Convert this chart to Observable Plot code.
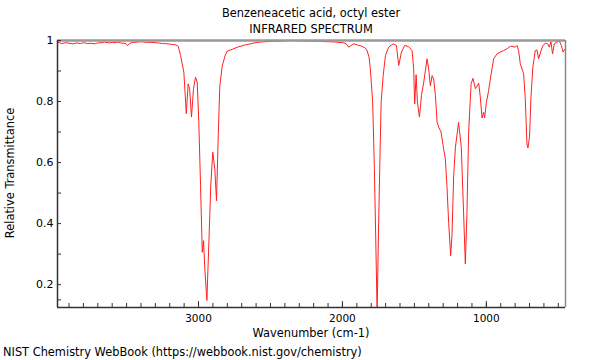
<!DOCTYPE html>
<html>
<head>
<meta charset="utf-8">
<script src="https://cdn.jsdelivr.net/npm/d3@7"></script>
<script src="https://cdn.jsdelivr.net/npm/@observablehq/plot@0.6"></script>
<style>
  html, body { margin: 0; padding: 0; background: #fff; }
  #wrap { position: relative; width: 600px; height: 360px; font-family: "DejaVu Sans", sans-serif; color: #000; }
  .t { position: absolute; white-space: nowrap; font-size: 11.4px; line-height: 13px; }
  #title1 { left: 0; width: 622px; text-align: center; top: 7px; }
  #title2 { left: 0; width: 622px; text-align: center; top: 23px; }
  #xlabel { left: 0; width: 622px; text-align: center; top: 327px; }
  #ylabel { left: 10px; top: 173px; transform: translate(-50%, -50%) rotate(-90deg); }
  #caption { left: 3px; top: 346px; }
</style>
</head>
<body>
<div id="wrap">
  <div id="chart"></div>
  <div class="t" id="title1">Benzeneacetic acid, octyl ester</div>
  <div class="t" id="title2">INFRARED SPECTRUM</div>
  <div class="t" id="xlabel">Wavenumber (cm-1)</div>
  <div class="t" id="ylabel">Relative Transmittance</div>
  <div class="t" id="caption">NIST Chemistry WebBook (https://webbook.nist.gov/chemistry)</div>
</div>
<script>
const wavenumber = [
  3980, 3950, 3920, 3900, 3870, 3850, 3820, 3800, 3770, 3750, 3720, 3700, 3670, 3650, 3620, 3600,
  3580, 3560, 3540, 3520, 3505, 3493, 3480, 3470, 3450, 3420, 3400, 3380, 3350, 3330, 3300, 3280,
  3250, 3230, 3200, 3180, 3160, 3141, 3125, 3102, 3085, 3072, 3062, 3049, 3035, 3021, 3009, 2998,
  2986, 2974, 2965, 2956, 2942, 2928, 2915, 2901, 2887, 2875, 2863, 2852, 2835, 2812, 2801, 2760,
  2731, 2680, 2640, 2592, 2540, 2480, 2420, 2361, 2300, 2250, 2200, 2150, 2100, 2050, 2000, 1975,
  1956, 1940, 1924, 1905, 1889, 1870, 1852, 1840, 1829, 1815, 1806, 1790, 1778, 1769, 1759, 1750,
  1741, 1731, 1717, 1701, 1679, 1648, 1625, 1609, 1590, 1567, 1540, 1516, 1505, 1498, 1488, 1479,
  1465, 1451, 1435, 1412, 1401, 1389, 1377, 1366, 1354, 1342, 1331, 1315, 1297, 1285, 1274, 1262,
  1248, 1239, 1227, 1215, 1193, 1174, 1158, 1146, 1135, 1123, 1106, 1093, 1076, 1053, 1042, 1030,
  1019, 1012, 1000, 984, 967, 949, 926, 903, 880, 856, 833, 815, 799, 787, 776, 764,
  741, 730, 718, 711, 700, 690, 677, 660, 648, 637, 620, 606, 590, 574, 563, 551,
  540, 528, 509, 493, 479, 467, 451
];
const transmittance = [
  0.995, 0.990, 0.993, 0.991, 0.989, 0.992, 0.990, 0.993, 0.990, 0.991, 0.989, 0.992, 0.993, 0.995, 0.992, 0.994,
  0.993, 0.995, 0.992, 0.991, 0.990, 0.983, 0.990, 0.992, 0.994, 0.995, 0.996, 0.995, 0.994, 0.994, 0.993, 0.992,
  0.990, 0.990, 0.988, 0.987, 0.986, 0.981, 0.951, 0.896, 0.760, 0.858, 0.842, 0.749, 0.842, 0.880, 0.863, 0.732,
  0.525, 0.306, 0.344, 0.250, 0.148, 0.340, 0.525, 0.634, 0.580, 0.475, 0.689, 0.852, 0.918, 0.955, 0.965, 0.972,
  0.978, 0.985, 0.989, 0.994, 0.996, 0.997, 0.998, 1.000, 0.999, 0.998, 0.998, 0.997, 0.996, 0.995, 0.993, 0.990,
  0.978, 0.984, 0.989, 0.987, 0.984, 0.982, 0.978, 0.975, 0.967, 0.945, 0.907, 0.798, 0.580, 0.360, 0.110, 0.360,
  0.580, 0.798, 0.885, 0.951, 0.978, 0.989, 0.984, 0.918, 0.962, 0.984, 0.980, 0.967, 0.907, 0.792, 0.888, 0.798,
  0.749, 0.820, 0.863, 0.940, 0.907, 0.852, 0.885, 0.874, 0.820, 0.732, 0.716, 0.700, 0.645, 0.612, 0.525, 0.404,
  0.295, 0.360, 0.557, 0.650, 0.732, 0.650, 0.432, 0.268, 0.432, 0.700, 0.858, 0.876, 0.842, 0.860, 0.814, 0.746,
  0.765, 0.746, 0.797, 0.836, 0.890, 0.940, 0.956, 0.962, 0.967, 0.973, 0.981, 0.980, 0.978, 0.984, 0.967, 0.924,
  0.891, 0.814, 0.661, 0.648, 0.683, 0.814, 0.912, 0.967, 0.969, 0.940, 0.967, 0.984, 0.991, 0.989, 0.978, 0.995,
  0.956, 0.989, 0.995, 0.998, 0.984, 0.962, 0.973
];
const xMajorTicks = [3000, 2000, 1000];
const xMinorTicks = d3.range(500, 4000, 100);
const yMajorTicks = [0.2, 0.4, 0.6, 0.8, 1];
const yMinorTicks = [0.15, 0.2, 0.3, 0.4, 0.5, 0.6, 0.7, 0.8, 0.9, 1];
const xDomain = [3980, 450];
const yDomain = [0.125, 1];

const spectrum = wavenumber.map((w, i) => ({w, t: transmittance[i]}));

const chart = Plot.plot({
  width: 600,
  height: 360,
  marginTop: 40,
  marginBottom: 53,
  marginLeft: 57,
  marginRight: 35,
  style: {fontFamily: "DejaVu Sans, sans-serif", fontSize: "10.5px", color: "#000", background: "#fff", overflow: "visible"},
  x: {domain: xDomain},
  y: {domain: yDomain},
  marks: [
    Plot.line(spectrum, {x: "w", y: "t", stroke: "#ff2020", strokeWidth: 1, clip: true}),
    Plot.ruleY([yDomain[1]], {stroke: "#999", strokeWidth: 2.5}),
    Plot.ruleX([xDomain[1]], {stroke: "#888", strokeWidth: 1.5}),
    Plot.ruleX([xDomain[0]], {stroke: "#333", strokeWidth: 1.5}),
    Plot.ruleY([yDomain[0]], {stroke: "#333", strokeWidth: 1.5}),
    Plot.axisX(xMinorTicks, {tickSize: -4, fill: "none", stroke: "#333", label: null}),
    Plot.axisX(xMajorTicks, {tickSize: -6, fill: "none", stroke: "#333", label: null}),
    Plot.axisX(xMajorTicks, {tickSize: 0, tickPadding: 7, tickFormat: d => String(d), label: null, fontSize: 10.5}),
    Plot.axisY(yMinorTicks, {tickSize: -4, fill: "none", stroke: "#333", label: null}),
    Plot.axisY(yMajorTicks, {tickSize: 0, tickPadding: 4, tickFormat: d => d === 1 ? "1" : String(d), label: null, fontSize: 11})
  ]
});
document.getElementById("chart").appendChild(chart);
</script>
</body>
</html>
